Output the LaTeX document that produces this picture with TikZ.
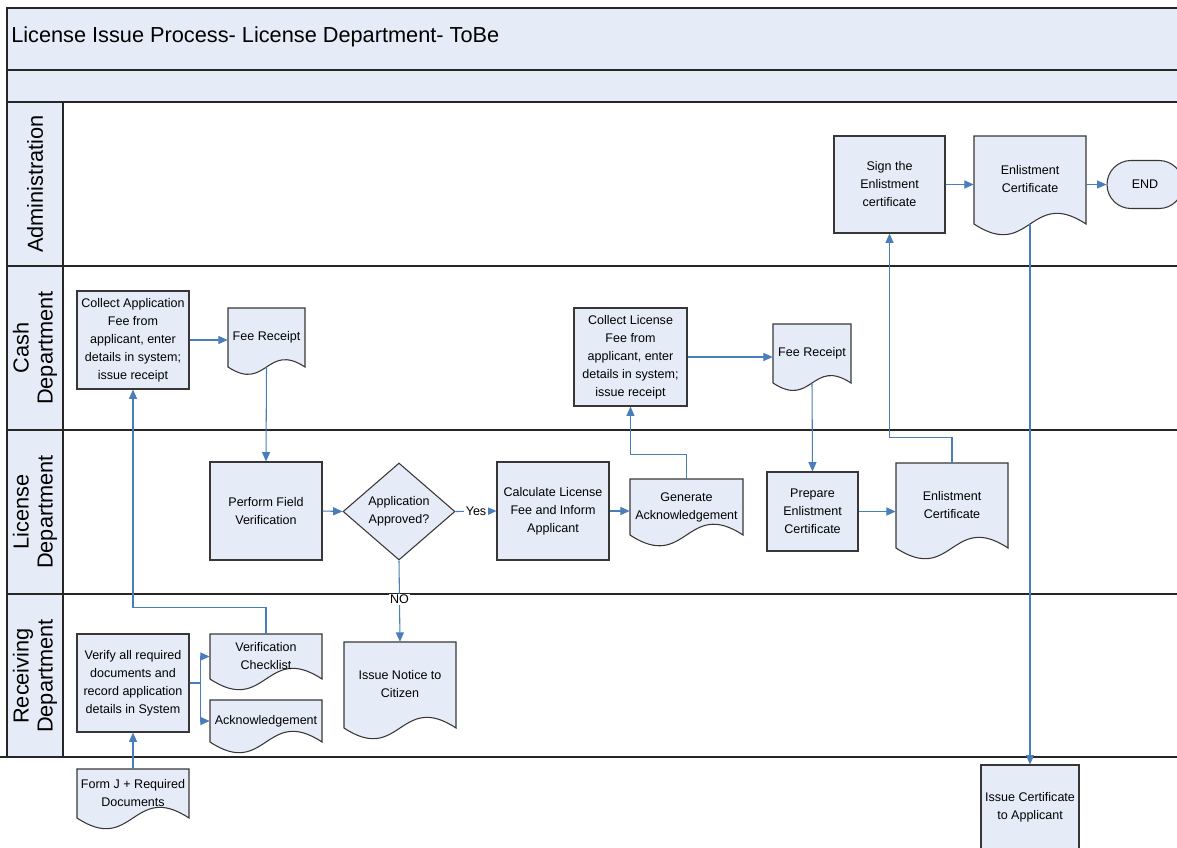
\documentclass[tikz,border=0pt]{standalone}
\usepackage{fontspec}
\setmainfont{Liberation Sans}
\usetikzlibrary{arrows.meta,calc,shapes.geometric,shapes.misc}
\definecolor{paleblue}{RGB}{230,236,247}
\definecolor{flowblue}{RGB}{74,126,187}
\definecolor{edgegray}{RGB}{55,55,55}
\newcommand\lift[2]{\raisebox{#1}{\begin{tabular}{@{}c@{}}#2\end{tabular}}}
\newcommand\nodefont{\fontsize{9.4}{13.5}\selectfont}
\tikzset{
  laneline/.style={draw=black!85, line width=1pt},
  shapeline/.style={draw=edgegray, fill=paleblue, line width=0.8pt},
  proc/.style={rectangle, draw=edgegray, fill=paleblue, line width=0.8pt, font=\nodefont, align=center, inner sep=0pt},
  docbox/.style={rectangle, draw=none, inner sep=0pt, font=\nodefont, align=center},
  decision/.style={diamond, aspect=1.15, draw=edgegray, fill=paleblue, line width=0.8pt, font=\nodefont, align=center, inner sep=0pt},
  terminal/.style={rounded rectangle, draw=edgegray, fill=paleblue, line width=0.8pt, font=\nodefont, inner sep=0pt},
  flow/.style={draw=flowblue, line width=0.8pt, -{Triangle[length=7pt,width=6pt]}},
  flowlabel/.style={font=\nodefont, fill=white, inner sep=1pt},
  lanelabel/.style={font=\fontsize{16.3}{18}\selectfont, rotate=90, align=center},
}
\newcommand\docshape[6]{%
  \draw[shapeline] (#2,#5) -- (#2,#3) -- (#4,#3) -- (#4,#5)
     .. controls ({(#2+#4)/2},{#5-0.33*(#4-#2)}) and ({(#2+#4)/2},{#5+0.33*(#4-#2)}) .. (#2,#5) -- cycle;
  \node[docbox, minimum width={(#4-#2)*0.75pt}, minimum height={(#5-#3)*0.75pt}] (#1) at ({(#2+#4)/2},{(#3+#5)/2}) {#6};
}
\newcommand\procnode[6]{%
  \node[proc, minimum width={#4*0.75pt}, minimum height={#5*0.75pt}] (#1) at (#2,#3) {#6};
}
\begin{document}
\begin{tikzpicture}[x=0.75pt,y=-0.75pt]
\useasboundingbox (0,0) rectangle (1177,847);
% frame
\fill[paleblue] (7,8) rectangle (1177,102);
\fill[paleblue] (7,102) rectangle (63,757);
\draw[laneline] (1177,8) -- (7,8) -- (7,757);
\draw[laneline] (7,70) -- (1177,70);
\draw[laneline] (7,102) -- (1177,102);
\draw[laneline] (7,266) -- (1177,266);
\draw[laneline] (7,430) -- (1177,430);
\draw[laneline] (7,594) -- (1177,594);
\draw[laneline] (0,757) -- (1177,757);
\draw[laneline] (63,102) -- (63,757);
\node[anchor=west, font=\fontsize{16.3}{20}\selectfont, inner sep=0pt] (title) at (11,37) {License Issue Process- License Department- ToBe};
\node[lanelabel] (lAdmin) at (35,184) {Administration};
\node[lanelabel] (lCash) at (35,348) {Cash\\Department};
\node[lanelabel] (lLic) at (35,512) {License\\Department};
\node[lanelabel] (lRec) at (35,676) {Receiving\\Department};
% Administration
\procnode{sign}{889.5}{184.5}{111}{97}{\lift{13.5pt}{Sign the\\Enlistment\\certificate}}
\docshape{enlAdmin}{974}{136}{1086}{224}{\lift{11.25pt}{Enlistment\\Certificate}}
\node[terminal, minimum width={76*0.75pt}, minimum height={48*0.75pt}] (endn) at (1145,184.5) {END};
% Cash
\procnode{collectapp}{133}{340}{112}{98}{Collect Application\\Fee from\\applicant, enter\\details in system;\\issue receipt}
\docshape{feerecA}{228}{308}{305}{367}{\lift{6pt}{Fee Receipt}}
\procnode{collectlic}{630.5}{357}{113}{98}{Collect License\\Fee from\\applicant, enter\\details in system;\\issue receipt}
\docshape{feerecB}{773}{324}{851}{383}{\lift{5.25pt}{Fee Receipt}}
% License
\procnode{field}{266}{511}{112}{98}{Perform Field\\Verification}
\node[decision, minimum width={112*0.75pt}, minimum height={97*0.75pt}] (dia) at (399,511.5) {Application\\Approved?};
\procnode{calc}{553}{511}{112}{98}{Calculate License\\Fee and Inform\\Applicant}
\docshape{genack}{630}{479}{743}{535}{\lift{6.75pt}{Generate\\Acknowledgement}}
\procnode{prepare}{812.5}{511.5}{91}{79}{Prepare\\Enlistment\\Certificate}
\docshape{enlLic}{896}{463}{1008}{548}{\lift{7.5pt}{Enlistment\\Certificate}}
% Receiving
\procnode{verify}{133}{683}{112}{98}{Verify all required\\documents and\\record application\\details in System}
\docshape{verchk}{210}{634}{322}{679}{\lift{11pt}{Verification\\Checklist}}
\docshape{ack}{210}{700}{322}{742}{\lift{4.5pt}{Acknowledgement}}
\docshape{notice}{344}{642}{456}{728}{\lift{8.25pt}{Issue Notice to\\Citizen}}
% outside
\docshape{formj}{77}{769}{189}{818}{\lift{4.5pt}{Form J + Required\\Documents}}
\procnode{issuecert}{1030}{807}{98}{84}{Issue Certificate\\to Applicant}
% connectors
\draw[flow] (formj.north) -- (verify.south);
\draw[flow] (verify.east) -- ++(11,0) |- (verchk.west);
\draw[flow] (verify.east) -- ++(11,0) |- (ack.west);
\draw[flow] (verchk.north) -- ++(0,-26) -| (collectapp.south);
\draw[flow] (collectapp.east) -- (feerecA.west |- collectapp.east);
\draw[flow] (feerecA.south) -- (field.north);
\draw[flow] (field.east) -- (dia.west);
\draw[flow] (dia.east) -- node[flowlabel] (yes) {Yes} (calc.west);
\draw[flow] (dia.south) -- node[flowlabel, pos=0.48] (no) {NO} (notice.north);
\draw[flow] (calc.east) -- (genack.west |- calc.east);
\draw[flow] (genack.north) -- ++(0,-24) -| (collectlic.south);
\draw[flow] (collectlic.east) -- (feerecB.west |- collectlic.east);
\draw[flow] (feerecB.south) -- (prepare.north);
\draw[flow] (prepare.east) -- (enlLic.west |- prepare.east);
\draw[flow] (enlLic.north) -- ++(0,-25) -| (sign.south);
\draw[flow] (sign.east) -- (enlAdmin.west |- sign.east);
\draw[flow] (enlAdmin.east |- endn.west) -- (endn.west);
\draw[flow] (enlAdmin.south) -- (issuecert.north);
\end{tikzpicture}
\end{document}
